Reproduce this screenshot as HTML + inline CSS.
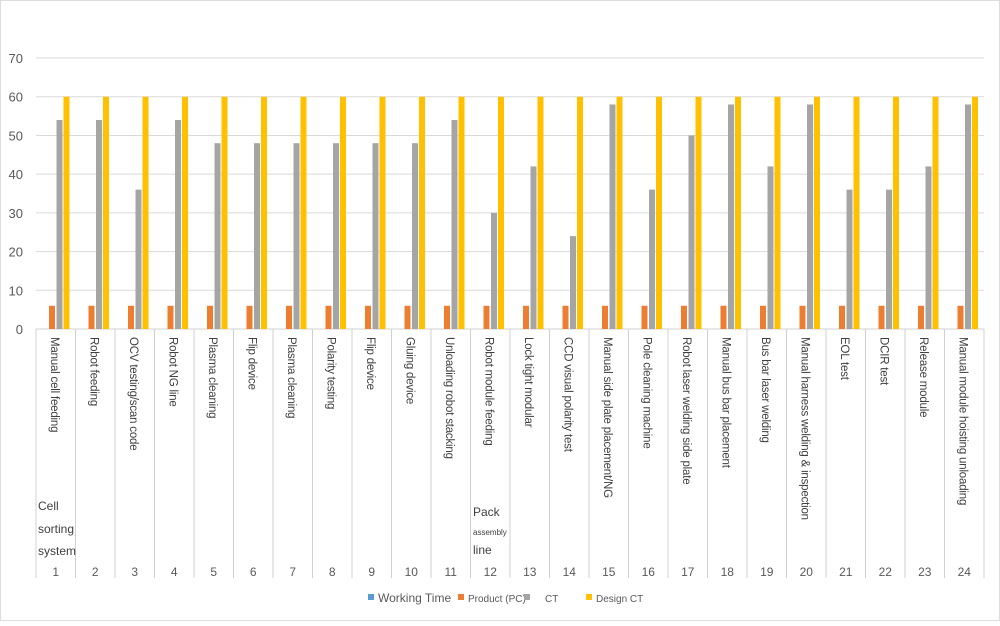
<!DOCTYPE html>
<html><head><style>
body{margin:0;background:#fff}
svg text{font-family:"Liberation Sans",sans-serif}
</style></head><body>
<svg width="1000" height="621" viewBox="0 0 1000 621" xmlns="http://www.w3.org/2000/svg">
<rect x="0.5" y="0.5" width="999" height="620" fill="#fff" stroke="#ddd"/>
<g id="g"></g>
</svg>
<script>
const ns="http://www.w3.org/2000/svg",g=document.getElementById('g');
function el(t,a,txt){const e=document.createElementNS(ns,t);for(const k in a)e.setAttribute(k,a[k]);if(txt!==undefined)e.textContent=txt;g.appendChild(e);return e;}
const L=36,W=39.5,Y0=329,S=3.871;
for(let v=0;v<=70;v+=10){const y=Y0-v*S;
 if(v>0)el('line',{x1:L,x2:984,y1:y,y2:y,stroke:'#d9d9d9','stroke-width':1});
 el('text',{x:23,y:y+5,'text-anchor':'end','font-size':13,fill:'#595959'},v);}
el('line',{x1:L,x2:984,y1:Y0,y2:Y0,stroke:'#d0d0d0'});
const ct=[54,54,36,54,48,48,48,48,48,48,54,30,42,24,58,36,50,58,42,58,36,36,42,58];
const names=["Manual cell feeding","Robot feeding","OCV testing/scan code","Robot NG line","Plasma cleaning","Flip device","Plasma cleaning","Polarity testing","Flip device","Gluing device","Unloading robot stacking","Robot module feeding","Lock tight modular","CCD visual polarity test","Manual side plate placement/NG","Pole cleaning machine","Robot laser welding side plate","Manual bus bar placement","Bus bar laser welding","Manual harness welding & inspection","EOL test","DCIR test","Release module","Manual module hoisting unloading"];
for(let i=0;i<=24;i++){const x=L+i*W;el('line',{x1:x,x2:x,y1:Y0,y2:578,stroke:'#d0d0d0'});}
for(let i=0;i<24;i++){const x=L+i*W;
 el('rect',{x:x+13,y:Y0-6*S,width:6,height:6*S,fill:'#ed7d31'});
 el('rect',{x:x+20.5,y:Y0-ct[i]*S,width:6,height:ct[i]*S,fill:'#a5a5a5'});
 el('rect',{x:x+27.5,y:Y0-60*S,width:6,height:60*S,fill:'#ffc000'});
 el('text',{x:0,y:0,'font-size':11.5,'letter-spacing':-0.2,fill:'#404040',transform:`translate(${x+15},337) rotate(90)`},names[i]);
 el('text',{x:x+W/2,y:576,'text-anchor':'middle','font-size':12,fill:'#595959'},i+1);
}
el('text',{x:38,y:510,'font-size':12,fill:'#404040'},'Cell');
el('text',{x:38,y:533,'font-size':12,fill:'#404040'},'sorting');
el('text',{x:38,y:555,'font-size':12,fill:'#404040'},'system');
el('text',{x:473,y:516,'font-size':12,fill:'#404040'},'Pack');
el('text',{x:473,y:535,'font-size':8,fill:'#404040'},'assembly');
el('text',{x:473,y:554,'font-size':12,fill:'#404040'},'line');
const lg=[[368,'#5b9bd5','Working Time',12],[458,'#ed7d31','Product (PC)',10],[524,'#a5a5a5','',10],[586,'#ffc000','Design CT',10]];
lg.forEach(([x,c,t,f])=>{el('rect',{x:x,y:594,width:6,height:6,fill:c});if(t)el('text',{x:x+10,y:602,'font-size':f,fill:'#595959'},t);});
el('text',{x:545,y:602,'font-size':10,fill:'#595959'},'CT');
</script>
</body></html>
